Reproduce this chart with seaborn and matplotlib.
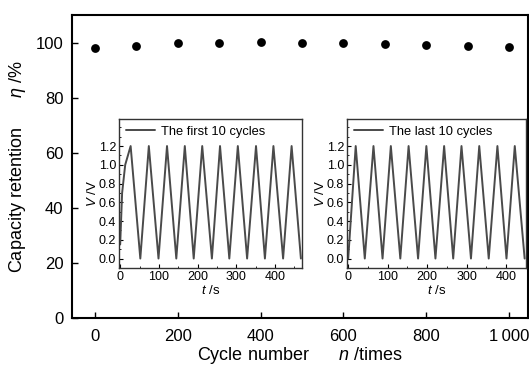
import numpy as np
import pandas as pd
import matplotlib
matplotlib.use("Agg")
import matplotlib.pyplot as plt
from matplotlib.ticker import MultipleLocator
import seaborn as sns

# main data: capacity retention vs cycle number
cycles = [0, 100, 200, 300, 400, 500, 600, 700, 800, 900, 1000]
retention = [98.0, 98.7, 99.7, 99.8, 100.1, 100.0, 99.8, 99.4, 99.0, 98.6, 98.4]

# inset 1: first 10 cycles (peak / trough times)
first_t = [0, 5, 13, 20, 27, 52, 74, 99, 121, 145, 167, 190, 212, 237, 258, 282,
           304, 328, 351, 374, 396, 421, 443, 467]
first_v = [0.15, 0.7, 1.0, 1.1, 1.2, 0.0, 1.2, 0.0, 1.2, 0.0, 1.2, 0.0, 1.2, 0.0,
           1.2, 0.0, 1.2, 0.0, 1.2, 0.0, 1.2, 0.0, 1.2, 0.0]

# inset 2: last 10 cycles
last_t = [0, 19, 42, 64, 87, 108, 132, 153, 177, 198, 221, 243, 266, 287, 311,
          332, 356, 378, 401, 422, 447]
last_v = [0.0, 1.2, 0.0, 1.2, 0.0, 1.2, 0.0, 1.2, 0.0, 1.2, 0.0, 1.2, 0.0, 1.2,
          0.0, 1.2, 0.0, 1.2, 0.0, 1.2, 0.0]

sns.set_style("white")
plt.rcParams["font.family"] = ["Liberation Sans", "DejaVu Sans"]
plt.rcParams["mathtext.fontset"] = "custom"
plt.rcParams["mathtext.it"] = "Liberation Sans:italic"
plt.rcParams["mathtext.rm"] = "Liberation Sans"
for k in ["text.color", "axes.labelcolor", "xtick.color", "ytick.color"]:
    plt.rcParams[k] = "black"

fig = plt.figure(figsize=(5.29, 3.68), dpi=100)
ax = fig.add_axes([0.136, 0.136, 0.862, 0.823])

main_df = pd.DataFrame({"cycle": cycles, "ret": retention})
sns.scatterplot(data=main_df, x="cycle", y="ret", ax=ax, color="black", s=40,
                edgecolor="black", linewidth=0)
ax.set_xlim(-55, 1045)
ax.set_ylim(0, 110)
ax.set_xticks(range(0, 1001, 200))
ax.set_xticklabels(["0", "200", "400", "600", "800", "1\u2009000"])
ax.set_yticks(range(0, 101, 20))
ax.tick_params(direction="in", length=4, width=1, labelsize=12, pad=6,
               bottom=True, left=True)
ax.tick_params(axis="x", pad=8)
for sp in ax.spines.values():
    sp.set_linewidth(1.5)
    sp.set_color("black")
ax.set_xlabel(r"Cycle number      $\it{n}$ /times", fontsize=13, labelpad=1)
ax.set_ylabel(r"Capacity retention      $\eta$ /%", fontsize=13, labelpad=6)


def draw_inset(rect, t, v, label, xmax):
    ins = fig.add_axes(rect)
    df = pd.DataFrame({"t": t, "v": v})
    sns.lineplot(data=df, x="t", y="v", ax=ins, sort=False, color="#4a4a4a",
                 linewidth=1.4, label=label)
    ins.set_xlim(-3, xmax)
    ins.set_ylim(-0.1, 1.49)
    ins.xaxis.set_major_locator(MultipleLocator(100))
    ins.xaxis.set_minor_locator(MultipleLocator(50))
    ins.set_yticks(np.arange(0, 1.21, 0.2))
    ins.set_yticklabels([f"{y:.1f}" for y in np.arange(0, 1.21, 0.2)])
    ins.yaxis.set_minor_locator(MultipleLocator(0.1))
    ins.tick_params(which="major", direction="in", length=3, width=0.8,
                    labelsize=9, pad=2, bottom=True, left=True)
    ins.tick_params(which="minor", direction="in", length=1.5, width=0.6,
                    bottom=True, left=True)
    for sp in ins.spines.values():
        sp.set_linewidth(1.0)
        sp.set_color("#333333")
    ins.set_xlabel(r"$\it{t}$ /s", fontsize=9.5, labelpad=1)
    ins.set_ylabel(r"$\it{V}$ /V", fontsize=9.5, labelpad=0)
    ins.legend(loc="upper left", frameon=False, fontsize=9.3,
               handlelength=2.2, borderaxespad=0.15, handletextpad=0.5)
    return ins


draw_inset([0.225, 0.272, 0.346, 0.405], first_t, first_v,
           "The first 10 cycles", 470)
draw_inset([0.656, 0.272, 0.338, 0.405], last_t, last_v,
           "The last 10 cycles", 450)

fig.savefig("out.png", dpi=100)
